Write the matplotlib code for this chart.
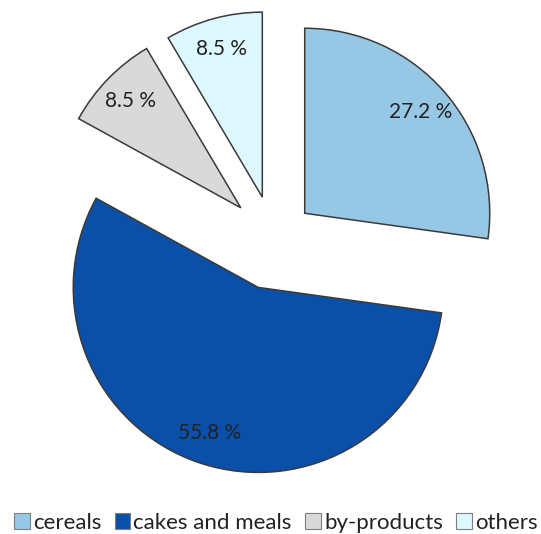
import matplotlib.pyplot as plt
from matplotlib.patches import Patch

# feed composition shares
labels = ["cereals", "cakes and meals", "by-products", "others"]
shares = [27.2, 55.8, 8.5, 8.5]
colors = ["#96C8E6", "#0B50A8", "#D9D9D9", "#DDF8FF"]
explode = [0.22, 0.27, 0.25, 0.24]

plt.rcParams['font.family'] = ['Lato', 'DejaVu Sans']

fig = plt.figure(figsize=(5.41, 5.34), dpi=100)
ax = fig.add_axes([0, 0, 1, 1])

wedges, texts, autotexts = ax.pie(
    shares, colors=colors, explode=explode, startangle=90, counterclock=False,
    autopct=lambda p: f"{p:.1f} %", pctdistance=0.83,
    wedgeprops=dict(edgecolor="#3a3a3a", linewidth=1.1),
    textprops=dict(fontsize=15, color="#222222"))

ax.set_aspect('equal')
ax.set_xlim(-1.481, 1.443)
ax.set_ylim(-1.589, 1.297)
ax.axis('off')

handles = [Patch(facecolor=c, edgecolor="#7f7f7f", linewidth=0.8) for c in colors]
fig.legend(handles, labels, loc='lower center', bbox_to_anchor=(0.51, -0.035),
           ncol=4, frameon=False, fontsize=16, handlelength=0.7, handleheight=0.7,
           handletextpad=0.15, columnspacing=0.6, labelcolor="#222222")

fig.savefig("out.png", dpi=100)
